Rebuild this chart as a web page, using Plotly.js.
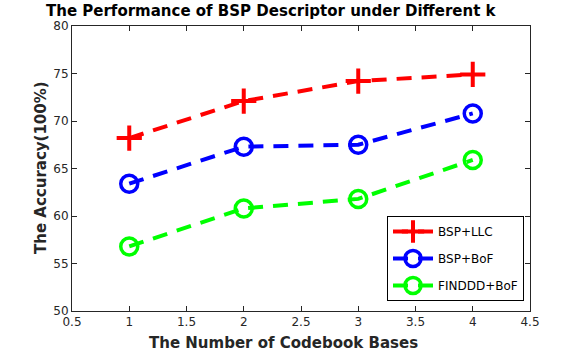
<!DOCTYPE html>
<html><head><meta charset="utf-8">
<script src="https://cdn.plot.ly/plotly-3.0.1.min.js"></script>
<style>body{margin:0;padding:0;background:#fff}</style>
</head><body>
<div id="chart" style="width:586px;height:353px"></div>
<script>
const bases = [1, 2, 3, 4];
const seriesNames = ["BSP+LLC", "BSP+BoF", "FINDDD+BoF"];
const bspLLC = [68.2, 72.1, 74.2, 74.9];
const bspBoF = [63.4, 67.3, 67.5, 70.8];
const finddBoF = [56.8, 60.8, 61.8, 65.9];
const xTicks = [0.5, 1, 1.5, 2, 2.5, 3, 3.5, 4, 4.5];
const yTicks = [50, 55, 60, 65, 70, 75, 80];
const chartTitle = "The Performance of BSP Descriptor under Different k";
const xTitle = "The Number of Codebook Bases";
const yTitle = "The Accuracy(100%)";

const dash = "15px,10px";
const traces = [
  {x: bases, y: bspLLC, name: seriesNames[0], legendgroup: "a", mode: "lines+markers",
   line: {color: "#ff0000", width: 4, dash: dash},
   marker: {symbol: "cross-thin-open", size: 18, color: "#ff0000", line: {color: "#ff0000", width: 4}}},
  {x: bases, y: bspBoF, name: seriesNames[1], legendgroup: "b", mode: "lines+markers",
   line: {color: "#0000ff", width: 4, dash: dash},
   marker: {symbol: "circle-open", size: 17, color: "#0000ff", line: {color: "#0000ff", width: 3.5}}},
  {x: bases, y: finddBoF, name: seriesNames[2], legendgroup: "c", mode: "lines+markers",
   line: {color: "#00ff00", width: 4, dash: dash},
   marker: {symbol: "circle-open", size: 17, color: "#00ff00", line: {color: "#00ff00", width: 3.5}}}
];

const axFont = {family: "DejaVu Sans, sans-serif", size: 12, color: "#262626"};
const layout = {
  width: 586, height: 353,
  margin: {l: 72, r: 56, t: 26, b: 42},
  paper_bgcolor: "#fff", plot_bgcolor: "#fff",
  showlegend: true,
  xaxis: {range: [0.5, 4.5], tickvals: xTicks, ticktext: xTicks.map(String),
          ticks: "inside", ticklen: 5, tickcolor: "#262626", showline: true, mirror: "ticks",
          linecolor: "#262626", linewidth: 1, showgrid: false, zeroline: false,
          tickfont: axFont},
  yaxis: {range: [50, 80], tickvals: yTicks, ticktext: yTicks.map(String),
          ticks: "inside", ticklen: 5, tickcolor: "#262626", showline: true, mirror: "ticks",
          linecolor: "#262626", linewidth: 1, showgrid: false, zeroline: false,
          tickfont: axFont},
  annotations: [
    {text: "<b>" + chartTitle + "</b>", xref: "paper", yref: "paper",
     x: (271 - 72) / 458, y: (311 - 11) / 285, xanchor: "center", yanchor: "middle", showarrow: false,
     font: {family: "DejaVu Sans, sans-serif", size: 15, color: "#000"}},
    {text: "<b>" + xTitle + "</b>", xref: "paper", yref: "paper",
     x: (283 - 72) / 458, y: (311 - 343) / 285, xanchor: "center", yanchor: "middle", showarrow: false,
     font: {family: "DejaVu Sans, sans-serif", size: 15, color: "#262626"}},
    {text: "<b>" + yTitle + "</b>", xref: "paper", yref: "paper", textangle: -90,
     x: (41 - 72) / 458, y: (311 - 168) / 285, xanchor: "center", yanchor: "middle", showarrow: false,
     font: {family: "DejaVu Sans, sans-serif", size: 15, color: "#262626"}}
  ],
  legend: {x: 1 - 6/458, xanchor: "right", y: 10/285, yanchor: "bottom",
           bgcolor: "#fff", bordercolor: "#000", borderwidth: 1, traceorder: "grouped",
           font: {family: "DejaVu Sans, sans-serif", size: 12, color: "#000"},
           tracegroupgap: 8, itemwidth: 40}
};
Plotly.newPlot("chart", traces, layout, {displayModeBar: false, staticPlot: true});
</script>
</body></html>
